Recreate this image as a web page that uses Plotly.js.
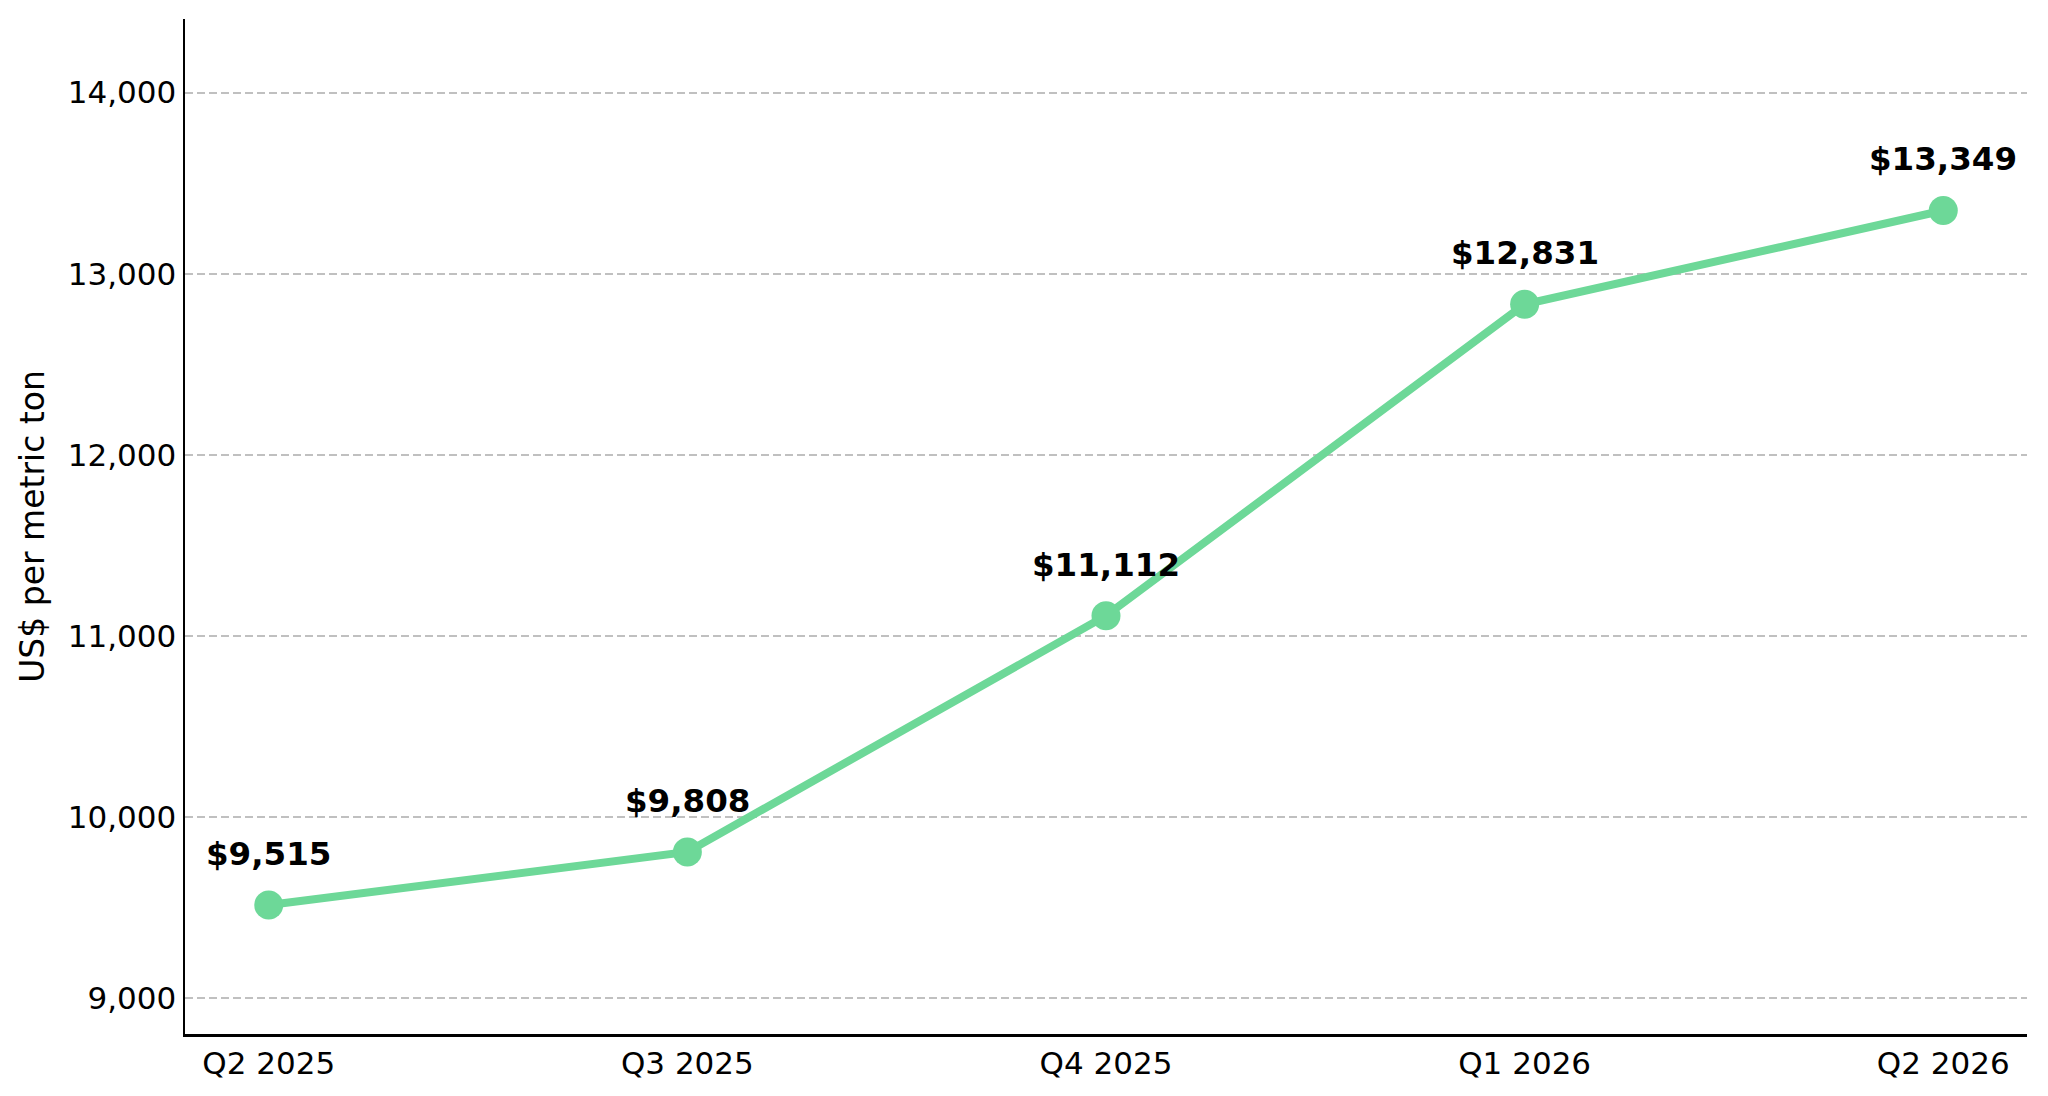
<!DOCTYPE html>
<html>
<head>
<meta charset="utf-8">
<script src="https://cdn.plot.ly/plotly-3.0.1.min.js"></script>
<style>html,body{margin:0;padding:0;background:#fff;}#chart{width:2048px;height:1096px;}</style>
</head>
<body>
<div id="chart"></div>
<script>
const quarters = ["Q2 2025", "Q3 2025", "Q4 2025", "Q1 2026", "Q2 2026"];
const prices = [9515, 9808, 11112, 12831, 13349];
const yTicks = [9000, 10000, 11000, 12000, 13000, 14000];
const yTickLabels = ["9,000", "10,000", "11,000", "12,000", "13,000", "14,000"];
const priceLabels = prices.map(v => "$" + v.toLocaleString("en-US"));

const FONT = "DejaVu Sans, sans-serif";
const GREEN = "#6dd898";

const trace = {
  x: quarters.map((_, i) => i),
  y: prices,
  type: "scatter",
  mode: "lines+markers",
  line: {color: GREEN, width: 8},
  marker: {color: GREEN, size: 29},
  hoverinfo: "skip",
  cliponaxis: false
};

const annotations = prices.map((v, i) => ({
  x: i, y: v, xref: "x", yref: "y",
  text: "<b>" + priceLabels[i] + "</b>",
  showarrow: false,
  yanchor: "bottom", xanchor: "center",
  yshift: 30,
  font: {family: FONT, size: 32.5, color: "#000"}
}));

const layout = {
  width: 2048, height: 1096,
  margin: {l: 185, r: 21, t: 19, b: 62},
  paper_bgcolor: "#fff", plot_bgcolor: "#fff",
  showlegend: false,
  font: {family: FONT, color: "#000"},
  xaxis: {
    range: [-0.2, 4.2],
    tickmode: "array",
    tickvals: quarters.map((_, i) => i),
    ticktext: quarters,
    showgrid: false, zeroline: false,
    showline: true, linecolor: "#000", linewidth: 2.5,
    ticks: "",
    tickfont: {family: FONT, size: 31, color: "#000"}
  },
  yaxis: {
    range: [8803, 14406],
    tickmode: "array",
    tickvals: yTicks,
    ticktext: yTickLabels,
    showgrid: true, gridcolor: "#c0c0c0", gridwidth: 2, griddash: "8px,4px",
    zeroline: false,
    showline: true, linecolor: "#000", linewidth: 2.5,
    ticks: "",
    tickfont: {family: FONT, size: 31, color: "#000"},
    title: {text: "US$ per metric ton", font: {family: FONT, size: 33, color: "#000"}, standoff: 14}
  },
  annotations: annotations
};

Plotly.newPlot("chart", [trace], layout, {displayModeBar: false, staticPlot: true});
</script>
</body>
</html>
